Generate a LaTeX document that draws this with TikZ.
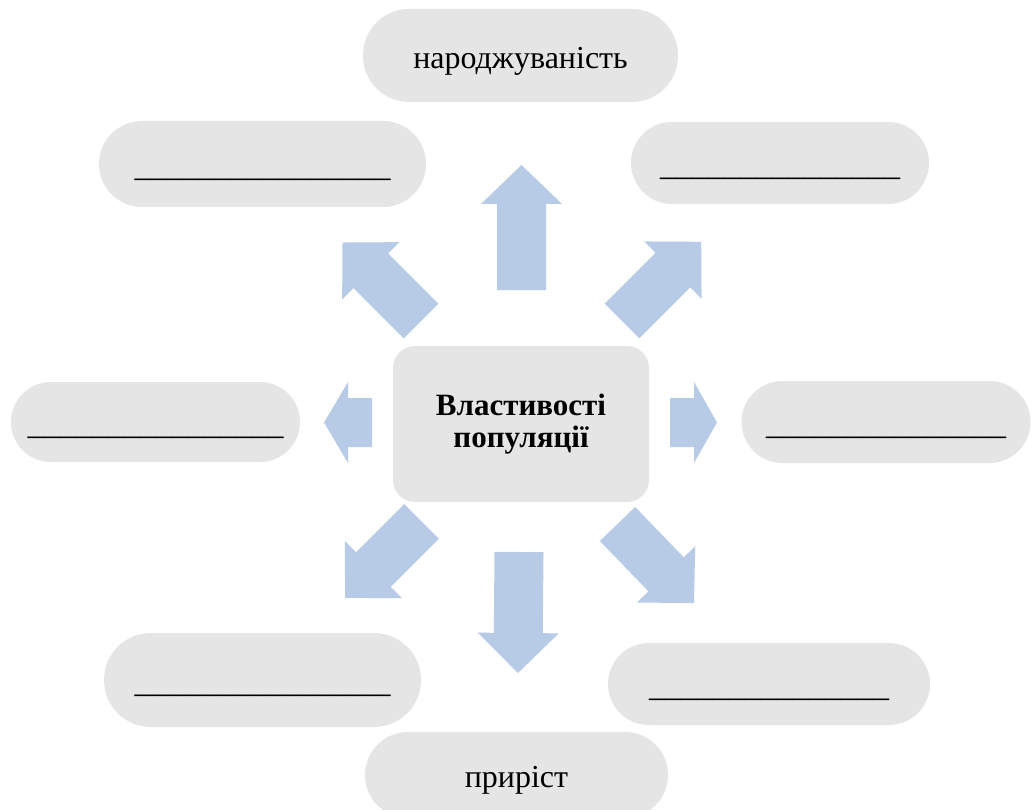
\documentclass[tikz,border=0pt]{standalone}
\usepackage{fontspec}
\setmainfont{Liberation Serif}
\definecolor{pillgray}{HTML}{E5E5E5}
\definecolor{arrowblue}{HTML}{B7CBE7}
\newcommand\blockarr[5]{%
  \fill[arrowblue,shift={(#1,#2)},rotate=#3] (0,-24.5) -- (#4-#5,-24.5) -- (#4-#5,-40.5) -- (#4,0) -- (#4-#5,40.5) -- (#4-#5,24.5) -- (0,24.5) -- cycle;}
\begin{document}
\begin{tikzpicture}[x=1pt,y=-1pt,
  pill/.style={fill=pillgray,inner sep=0pt,font=\fontsize{32}{32}\selectfont,text height=28pt,text depth=2.8pt},
  core/.style={fill=pillgray,inner sep=0pt,rounded corners=22pt,minimum width=256pt,minimum height=156pt,align=center,font=\fontsize{31}{32}\selectfont\bfseries}]
\clip (0,0) rectangle (1032,810);
\fill[white] (0,0) rectangle (1032,810);
% pills
\node[pill,minimum width=315pt,minimum height=93pt,rounded corners=46pt] (top) at (520.5,55.5) {народжуваність};
\node[pill,minimum width=327pt,minimum height=86pt,rounded corners=43pt] (ul) at (262.5,164) {\_\_\_\_\_\_\_\_\_\_\_\_\_\_\_\_};
\node[pill,minimum width=298pt,minimum height=82pt,rounded corners=41pt] (ur) at (780,163) {\_\_\_\_\_\_\_\_\_\_\_\_\_\_\_};
\node[pill,minimum width=289pt,minimum height=80pt,rounded corners=40pt] (l) at (155.5,422) {\_\_\_\_\_\_\_\_\_\_\_\_\_\_\_\_};
\node[pill,minimum width=289pt,minimum height=82pt,rounded corners=41pt] (r) at (886,422) {\_\_\_\_\_\_\_\_\_\_\_\_\_\_\_};
\node[pill,minimum width=317pt,minimum height=94pt,rounded corners=47pt] (ll) at (262.5,680) {\_\_\_\_\_\_\_\_\_\_\_\_\_\_\_\_};
\node[pill,minimum width=322pt,minimum height=82pt,rounded corners=41pt] (lr) at (769,684) {\_\_\_\_\_\_\_\_\_\_\_\_\_\_\_};
\node[pill,minimum width=303pt,minimum height=86pt,rounded corners=43pt] (bot) at (516.5,775) {приріст};
% centre
\node[core] (c) at (521,424) {Властивості\\популяції};
% block arrows: start x, start y, angle, length, head length
\blockarr{521.5}{290}{90}{125}{39}
\blockarr{421}{321}{135}{111}{40}
\blockarr{622}{321}{45}{112}{40}
\blockarr{372}{422.5}{180}{48}{24}
\blockarr{670}{422.5}{0}{47}{23}
\blockarr{421.5}{521.5}{225}{108}{40}
\blockarr{617.5}{524}{-46}{110}{40}
\blockarr{519}{552}{269.5}{121}{40}
\end{tikzpicture}
\end{document}
